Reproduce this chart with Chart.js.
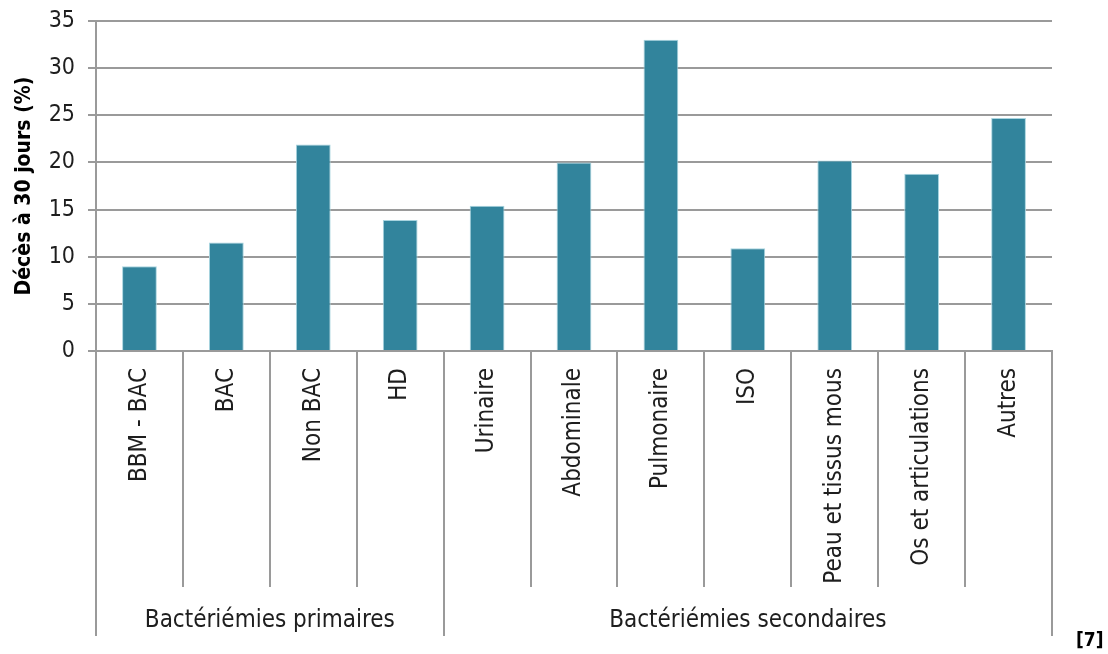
<!DOCTYPE html>
<html>
<head>
<meta charset="utf-8">
<script src="https://cdn.jsdelivr.net/npm/chart.js@4/dist/chart.umd.min.js"></script>
<style>
html,body{margin:0;padding:0;background:#fff;}
#wrap{position:relative;width:1108px;height:654px;}
</style>
</head>
<body>
<div id="wrap"><canvas id="c" width="1108" height="654"></canvas></div>
<script>
const categories = ["BBM - BAC","BAC","Non BAC","HD","Urinaire","Abdominale","Pulmonaire","ISO","Peau et tissus mous","Os et articulations","Autres"];
const deaths = [9.0, 11.5, 21.9, 13.9, 15.4, 20.0, 33.0, 10.9, 20.2, 18.8, 24.7];
const groups = [
  {label: "Bactériémies primaires", from: 0, to: 3},
  {label: "Bactériémies secondaires", from: 4, to: 10}
];
const yTitle = "Décès à 30 jours (%)";
const sourceNote = "[7]";

const FONT = "'DejaVu Sans Condensed', 'DejaVu Sans', sans-serif";
const GRID = "#9a9a9a";

const dividers = {
  id: "dividers",
  afterDraw(chart) {
    const x = chart.scales.x;
    const ctx = chart.ctx;
    const half = (x.getPixelForValue(1) - x.getPixelForValue(0)) / 2;
    const top = chart.chartArea.bottom;
    const starts = new Set(groups.map(g => g.from));
    const ends = new Set(groups.map(g => g.to + 1));
    ctx.save();
    ctx.strokeStyle = GRID;
    ctx.lineWidth = 2;
    for (let i = 0; i <= categories.length; i++) {
      const px = Math.round(x.getPixelForValue(i) - half);
      const isGroup = starts.has(i) || ends.has(i);
      ctx.beginPath();
      ctx.moveTo(px, top);
      ctx.lineTo(px, isGroup ? 636 : 587);
      ctx.stroke();
    }
    ctx.fillStyle = "#1e1e1e";
    ctx.font = "24px " + FONT;
    ctx.textAlign = "center";
    ctx.textBaseline = "middle";
    groups.forEach(g => {
      const cx = (x.getPixelForValue(g.from) + x.getPixelForValue(g.to)) / 2;
      ctx.fillText(g.label, cx, 621);
    });
    ctx.fillStyle = "#000";
    ctx.font = "bold 19px " + FONT;
    ctx.textAlign = "left";
    ctx.fillText(sourceNote, 1076, 641);
    ctx.restore();
  }
};

new Chart(document.getElementById("c"), {
  type: "bar",
  data: {
    labels: categories,
    datasets: [{
      data: deaths,
      backgroundColor: "#32849c",
      borderColor: "#a8d4df",
      borderWidth: 1,
      barPercentage: 0.8,
      categoryPercentage: 0.5
    }]
  },
  options: {
    responsive: false,
    animation: false,
    devicePixelRatio: 1,
    layout: {padding: {left: 0, right: 56, top: 21, bottom: 0}},
    plugins: {legend: {display: false}, tooltip: {enabled: false}},
    scales: {
      y: {
        min: 0, max: 35,
        ticks: {stepSize: 5, color: "#1e1e1e", font: {family: FONT, size: 23}, padding: 13},
        grid: {color: GRID, lineWidth: 2, tickLength: 8, tickColor: GRID},
        border: {color: GRID, width: 2},
        title: {display: true, text: yTitle, color: "#000", font: {family: FONT, size: 21, weight: "bold"}, padding: {top: 12, bottom: 0}},
        afterFit(s) { s.width = 96; s.paddingTop = 0; s.paddingBottom = 0; }
      },
      x: {
        ticks: {minRotation: 90, maxRotation: 90, autoSkip: false, color: "#1e1e1e", font: {family: FONT, size: 24}, padding: 9},
        grid: {display: false, offset: true},
        border: {color: GRID, width: 2},
        afterFit(s) { s.height = 303; s.paddingLeft = 0; s.paddingRight = 0; }
      }
    }
  },
  plugins: [dividers]
});
</script>
</body>
</html>
